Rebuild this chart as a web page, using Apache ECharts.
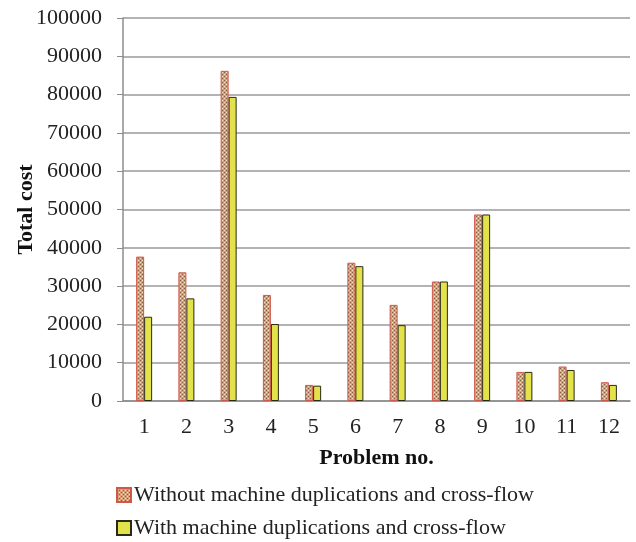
<!DOCTYPE html>
<html>
<head>
<meta charset="utf-8">
<script src="https://cdn.jsdelivr.net/npm/echarts@6/dist/echarts.min.js"></script>
<style>html,body{margin:0;padding:0;background:#fff;}#c{width:636px;height:542px;}</style>
</head>
<body>
<div id="c"></div>
<script>
var categories = ['1','2','3','4','5','6','7','8','9','10','11','12'];
var withoutDup = [37700, 33600, 86200, 27700, 4200, 36100, 25100, 31200, 48700, 7600, 9000, 4900];
var withDup = [22000, 26800, 79400, 20100, 4000, 35200, 19800, 31200, 48700, 7600, 8100, 4200];
var seriesNames = ['Without machine duplications and cross-flow', 'With machine duplications and cross-flow'];

function makePattern() {
  var cv = document.createElement('canvas');
  cv.width = 4; cv.height = 4;
  var ctx = cv.getContext('2d');
  ctx.fillStyle = '#d8a07a';
  ctx.fillRect(0, 0, 4, 4);
  ctx.fillStyle = '#8e5a3a';
  ctx.fillRect(0, 0, 1, 1);
  ctx.fillRect(2, 2, 1, 1);
  ctx.fillStyle = '#f2dcc0';
  ctx.fillRect(2, 0, 1, 1);
  ctx.fillRect(0, 2, 1, 1);
  return cv;
}

var chart = echarts.init(document.getElementById('c'), null, {renderer: 'canvas'});
var font = '"Liberation Serif", "Times New Roman", serif';
chart.setOption({
  animation: false,
  textStyle: {fontFamily: font},
  grid: {left: 123, right: 6, top: 18, bottom: 141, containLabel: false, outerBoundsMode: 'none'},
  legend: {
    orient: 'vertical', left: 116, top: 484, padding: 0, height: 58,
    itemWidth: 14, itemHeight: 14, itemGap: 11,
    icon: 'rect',
    textStyle: {fontFamily: font, fontSize: 22, color: '#222', padding: [0,0,0,-2]},
    data: seriesNames
  },
  xAxis: {
    type: 'category', data: categories,
    name: 'Problem no.', nameLocation: 'middle', nameGap: 46, nameMoveOverlap: false,
    nameTextStyle: {fontFamily: font, fontSize: 22, fontWeight: 'bold', color: '#111'},
    axisLine: {lineStyle: {color: '#8c8c8c', width: 1.5}},
    axisTick: {show: false},
    axisLabel: {fontFamily: font, fontSize: 22, color: '#222', margin: 15}
  },
  yAxis: {
    type: 'value', min: 0, max: 100000, interval: 10000,
    name: 'Total cost', nameLocation: 'middle', nameGap: 86, nameMoveOverlap: false,
    nameTextStyle: {fontFamily: font, fontSize: 22, fontWeight: 'bold', color: '#111'},
    axisLine: {show: true, lineStyle: {color: '#8c8c8c', width: 1.5}},
    axisTick: {show: true, length: 6, lineStyle: {color: '#8c8c8c'}},
    axisLabel: {fontFamily: font, fontSize: 22, color: '#222', margin: 21, formatter: function (v) { return String(v); }},
    splitLine: {lineStyle: {color: '#9a9a9a', width: 1.5}}
  },
  series: [
    {
      name: seriesNames[0], type: 'bar', data: withoutDup,
      barWidth: 8, barGap: '0%',
      itemStyle: {color: {image: makePattern(), repeat: 'repeat'}, borderColor: '#d0584a', borderWidth: 1}
    },
    {
      name: seriesNames[1], type: 'bar', data: withDup,
      barWidth: 8,
      itemStyle: {color: '#e4e24a', borderColor: '#2a2a1a', borderWidth: 1}
    }
  ]
});
</script>
</body>
</html>
